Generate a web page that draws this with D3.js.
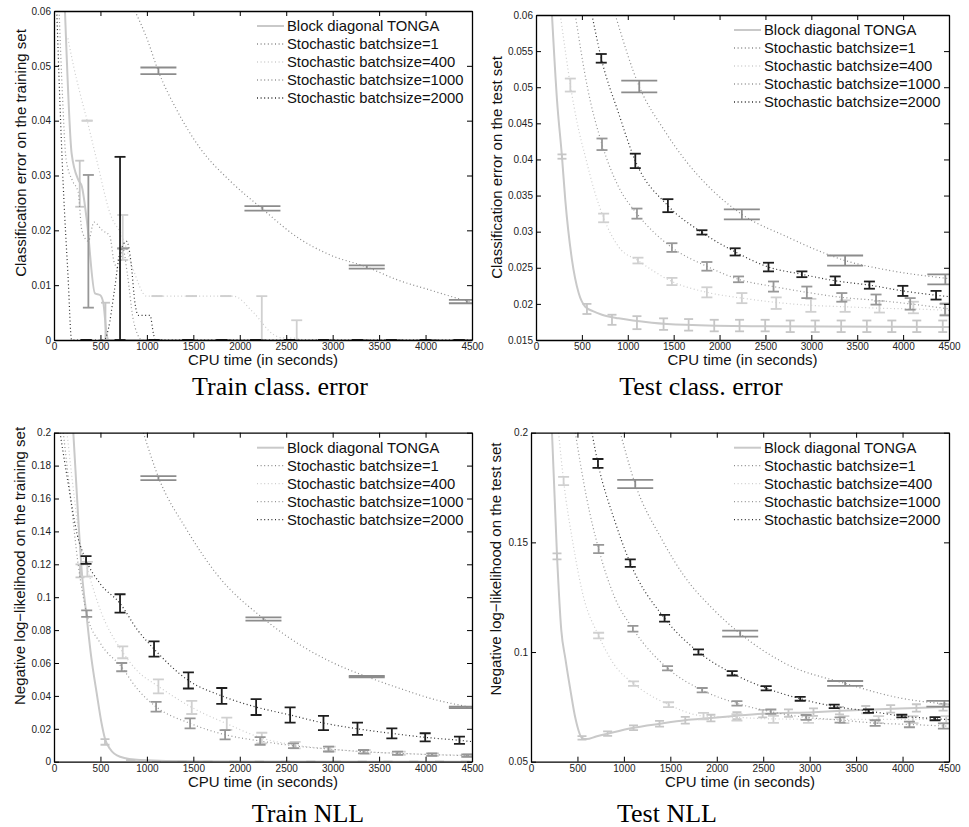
<!DOCTYPE html>
<html>
<head>
<meta charset="utf-8">
<script src="https://cdn.jsdelivr.net/npm/d3@7"></script>
<style>
  body { margin: 0; background: #fff; }
  svg { display: block; font-family: "Liberation Sans", Arial, sans-serif; }
</style>
</head>
<body>
<svg id="fig" width="969" height="827"></svg>
<script>
const seriesNames = ["Block diagonal TONGA", "Stochastic batchsize=1", "Stochastic batchsize=400",
                     "Stochastic batchsize=1000", "Stochastic batchsize=2000"];
const xTicks = [0, 500, 1000, 1500, 2000, 2500, 3000, 3500, 4000, 4500];
const xLabel = "CPU time (in seconds)";

// ---- Train class. error  (curves: [time, value], bars: [time, mean, halfwidth])
const trErrYTicks = [0, 0.01, 0.02, 0.03, 0.04, 0.05, 0.06];
const trErrTonga = [[118,0.060],[136,0.052],[190,0.034],[262,0.0292],[300,0.028],[352,0.022],[441,0.0085],[495,0.0082],[531,0.0068],[567,0.001],[585,0],[4500,0]];
const trErrTongaBars = [[277,0.0285,0.0042],[554,0.0034,0.0034],[831,0,0],[1108,0,0],[1385,0,0],[1662,0,0],[1939,0,0],[2216,0,0],[2493,0,0],[2770,0,0],[3047,0,0],[3324,0,0],[3601,0,0],[3878,0,0],[4155,0,0],[4432,0,0]];
const trErrB1 = [[872,0.060],[1000,0.055],[1124,0.049],[1320,0.042],[1572,0.035],[1896,0.029],[2237,0.024],[2614,0.0188],[2973,0.0155],[3368,0.0133],[3691,0.011],[4050,0.0091],[4408,0.0073],[4500,0.0069]];
const trErrB1Bars = [[1124,0.0491,0.0006],[2244,0.0240,0.0004],[3367,0.0133,0.0003],[4445,0.0070,0.0003]];
const trErrB400 = [[150,0.055],[210,0.050],[280,0.045],[357,0.040],[460,0.0328],[603,0.0231],[740,0.0187],[850,0.013],[998,0.008],[1931,0.008],[2147,0.005],[2362,0.001],[2450,0.0004],[2620,0.0003],[2700,0],[4500,0]];
const trErrB400Bars = [[357,0.040,0],[740,0.0187,0.0041],[1110,0.008,0],[1480,0.008,0],[1850,0.008,0],[2237,0.004,0.004],[2613,0.0018,0.0018],[2960,0,0],[3330,0,0],[3700,0,0],[4070,0,0],[4440,0,0]];
const trErrB1000 = [[55,0.060],[90,0.045],[130,0.033],[200,0.029],[260,0.027],[300,0.020],[370,0.018],[430,0.0215],[520,0.020],[600,0.019],[650,0.014],[700,0.013],[740,0.0167],[790,0.012],[850,0.004],[900,0.001],[950,0],[4500,0]];
const trErrB1000Bars = [[370,0.018,0.0121],[740,0.0167,0],[1110,0,0],[1480,0,0],[1850,0,0],[2220,0,0],[2590,0,0],[2960,0,0],[3330,0,0],[3700,0,0],[4070,0,0],[4440,0,0]];
const trErrB2000 = [[30,0.060],[60,0.045],[100,0.028],[150,0.012],[190,0],[540,0],[585,0.002],[650,0.009],[711,0.0160],[783,0.018],[830,0.014],[872,0.0067],[908,0.0045],[1034,0.0045],[1070,0.0012],[1090,0],[4500,0]];
const trErrB2000Bars = [[346,0,0],[711,0.0167,0.0167],[1076,0,0],[1441,0,0],[1806,0,0],[2171,0,0],[2536,0,0],[2901,0,0],[3266,0,0],[3631,0,0],[3996,0,0],[4361,0,0]];

// ---- Test class. error
const teErrYTicks = [0.015, 0.02, 0.025, 0.03, 0.035, 0.04, 0.045, 0.05, 0.055, 0.06];
const teErrTonga = [[174,0.060],[229,0.0482],[283,0.0404],[319,0.0344],[392,0.0261],[465,0.0215],[537,0.0196],[620,0.019],[719,0.0185],[900,0.018],[1263,0.0174],[1626,0.0171],[2352,0.0169],[4500,0.0168]];
const teErrTongaBars = [[283,0.0404,0.0003],[555,0.0193,0.0007],[828,0.0178,0.0007],[1100,0.0174,0.0009],[1390,0.0172,0.0008],[1663,0.0171,0.0008],[1942,0.0170,0.0008],[2218,0.0170,0.0008],[2497,0.0170,0.0008],[2770,0.0169,0.0008],[3042,0.0169,0.0008],[3325,0.0169,0.0008],[3605,0.0169,0.0008],[3877,0.0169,0.0008],[4149,0.0169,0.0008],[4432,0.0169,0.0008]];
const teErrB1 = [[864,0.060],[1125,0.0501],[1400,0.0440],[1626,0.0399],[1900,0.036],[2243,0.0324],[2733,0.0293],[3050,0.0275],[3368,0.026],[3823,0.0247],[4500,0.0235]];
const teErrB1Bars = [[1125,0.0501,0.0008],[2243,0.0324,0.0007],[3368,0.0260,0.0007],[4460,0.0234,0.0007]];
const teErrB400 = [[265,0.060],[320,0.055],[374,0.0503],[450,0.045],[537,0.0404],[640,0.0355],[737,0.0319],[900,0.0279],[1111,0.0260],[1481,0.0231],[1862,0.0216],[2243,0.0208],[2617,0.0202],[2995,0.0198],[3368,0.0196],[3742,0.0194],[4112,0.0193],[4500,0.0191]];
const teErrB400Bars = [[374,0.0503,0.0009],[737,0.0319,0.0006],[1111,0.0260,0.0004],[1481,0.0231,0.0005],[1862,0.0216,0.0007],[2243,0.0208,0.0007],[2617,0.0201,0.0008],[2995,0.0198,0.0009],[3368,0.0197,0.0008],[3742,0.0196,0.0008],[4112,0.0195,0.0008],[4460,0.0193,0.0008]];
const teErrB1000 = [[428,0.060],[560,0.050],[719,0.0421],[900,0.0362],[1100,0.0325],[1481,0.0278],[1862,0.0252],[2207,0.0234],[2588,0.0224],[2951,0.0216],[3332,0.0209],[3705,0.0205],[4077,0.0200],[4500,0.0193]];
const teErrB1000Bars = [[719,0.0421,0.0008],[1100,0.0325,0.0007],[1481,0.0278,0.0006],[1862,0.0252,0.0006],[2207,0.0234,0.0004],[2588,0.0224,0.0007],[2951,0.0216,0.0008],[3332,0.0209,0.0006],[3705,0.0206,0.0007],[4077,0.0200,0.0008],[4457,0.0192,0.0008]];
const teErrB2000 = [[610,0.060],[711,0.054],[900,0.0464],[1082,0.0398],[1437,0.0336],[1808,0.0299],[2170,0.0272],[2533,0.0251],[2897,0.0241],[3260,0.0232],[3633,0.0226],[3997,0.0218],[4359,0.0212],[4500,0.0210]];
const teErrB2000Bars = [[711,0.0540,0.0006],[1082,0.0398,0.0010],[1437,0.0336,0.0009],[1808,0.0299,0.0003],[2170,0.0272,0.0005],[2533,0.0251,0.0006],[2897,0.0241,0.0004],[3260,0.0232,0.0006],[3633,0.0226,0.0005],[3997,0.0218,0.0007],[4359,0.0212,0.0006]];

// ---- Train NLL
const trNllYTicks = [0, 0.02, 0.04, 0.06, 0.08, 0.1, 0.12, 0.14, 0.16, 0.18, 0.2];
const trNllTonga = [[208,0.2],[262,0.147],[300,0.115],[352,0.088],[400,0.064],[460,0.0415],[510,0.024],[549,0.014],[600,0.008],[711,0.003],[926,0.001],[1500,0.0002],[4500,0]];
const trNllTongaBars = [[280,0.116,0.004],[549,0.012,0.0017],[826,0.001,0],[1103,0,0],[1380,0,0],[1657,0,0],[1934,0,0],[2211,0,0],[2488,0,0],[2765,0,0],[3042,0,0],[3319,0,0],[3596,0,0],[3873,0,0],[4150,0,0],[4427,0,0]];
const trNllB1 = [[962,0.2],[1124,0.173],[1429,0.141],[1752,0.114],[2255,0.087],[2650,0.071],[3008,0.060],[3367,0.0517],[3726,0.0445],[4085,0.038],[4500,0.033]];
const trNllB1Bars = [[1124,0.1724,0.0012],[2255,0.0867,0.001],[3367,0.0517,0.0004],[4445,0.033,0.0004]];
const trNllB400 = [[140,0.2],[220,0.16],[290,0.13],[359,0.117],[500,0.092],[740,0.0665],[900,0.055],[1124,0.0458],[1483,0.033],[1860,0.0231],[2237,0.0144],[2596,0.0101],[2973,0.0077],[3350,0.0059],[3727,0.0051],[4085,0.0043],[4462,0.0038],[4500,0.0037]];
const trNllB400Bars = [[359,0.117,0.0045],[740,0.0665,0.0036],[1124,0.0458,0.0043],[1483,0.033,0.004],[1860,0.0231,0.0037],[2237,0.0144,0.0032],[2596,0.0101,0.002],[2973,0.0077,0.0015],[3350,0.0059,0.0012],[3727,0.0051,0.001],[4085,0.0043,0.0008],[4462,0.0038,0.0007]];
const trNllB1000 = [[100,0.2],[180,0.16],[260,0.12],[352,0.090],[500,0.072],[729,0.0575],[900,0.044],[1099,0.0334],[1465,0.0233],[1842,0.0164],[2219,0.0126],[2578,0.0097],[2955,0.0077],[3332,0.0061],[3698,0.0051],[4067,0.0043],[4444,0.0037],[4500,0.0036]];
const trNllB1000Bars = [[352,0.090,0.002],[729,0.0575,0.0025],[1099,0.0334,0.003],[1465,0.0233,0.003],[1842,0.0164,0.0028],[2219,0.0126,0.0023],[2578,0.0097,0.0015],[2955,0.0077,0.0015],[3332,0.0061,0.001],[3698,0.0051,0.001],[4067,0.0043,0.0008],[4444,0.0037,0.0007]];
const trNllB2000 = [[65,0.2],[150,0.17],[250,0.138],[345,0.1226],[500,0.108],[711,0.0962],[900,0.080],[1077,0.0685],[1447,0.0494],[1806,0.040],[2176,0.0332],[2542,0.0284],[2901,0.0235],[3267,0.020],[3637,0.0172],[3996,0.0148],[4365,0.013],[4500,0.0122]];
const trNllB2000Bars = [[345,0.1226,0.0024],[711,0.0962,0.0056],[1077,0.0685,0.0046],[1447,0.0494,0.0049],[1806,0.040,0.0048],[2176,0.0332,0.0048],[2542,0.0284,0.0046],[2901,0.0235,0.0043],[3267,0.020,0.0037],[3637,0.0172,0.003],[3996,0.0148,0.0025],[4365,0.013,0.0022]];

// ---- Test NLL
const teNllYTicks = [0.05, 0.1, 0.15, 0.2];
const teNllTonga = [[226,0.2],[280,0.144],[326,0.110],[370,0.097],[423,0.083],[477,0.070],[549,0.0609],[600,0.0603],[700,0.0615],[825,0.0628],[1104,0.0655],[1384,0.0673],[1661,0.0689],[1937,0.0699],[2217,0.071],[2494,0.0719],[3041,0.0726],[3604,0.0737],[4149,0.0745],[4500,0.0750]];
const teNllTongaBars = [[280,0.1436,0.0014],[549,0.0609,0.0008],[825,0.0628,0.001],[1104,0.0655,0.0011],[1384,0.0673,0.0013],[1661,0.0689,0.0015],[1937,0.0699,0.0015],[2217,0.071,0.0016],[2494,0.0719,0.0017],[2772,0.0722,0.0017],[3041,0.0726,0.0017],[3321,0.0733,0.0017],[3604,0.0737,0.0017],[3872,0.0741,0.0017],[4149,0.0745,0.0017],[4436,0.0748,0.0015]];
const teNllB1 = [[961,0.2],[1122,0.1766],[1400,0.152],[1660,0.134],[1950,0.12],[2252,0.1084],[2736,0.0948],[3382,0.0857],[3991,0.0789],[4500,0.0762]];
const teNllB1Bars = [[1122,0.1766,0.0019],[2252,0.1084,0.0014],[3382,0.0857,0.0011],[4450,0.0764,0.0013]];
const teNllB400 = [[297,0.2],[351,0.178],[450,0.150],[560,0.126],[728,0.1075],[900,0.094],[1104,0.0856],[1481,0.076],[1857,0.0708],[2217,0.0702],[2610,0.0695],[2987,0.0694],[3368,0.0693],[3742,0.0693],[4112,0.0693],[4500,0.0693]];
const teNllB400Bars = [[351,0.178,0.0019],[728,0.1075,0.0013],[1104,0.0856,0.001],[1481,0.076,0.0011],[1857,0.0708,0.0015],[2217,0.0702,0.0015],[2610,0.0693,0.0016],[2987,0.0693,0.0016],[3368,0.0692,0.0016],[3742,0.0692,0.0016],[4112,0.0692,0.0016],[4470,0.0692,0.0016]];
const teNllB1000 = [[477,0.2],[600,0.17],[728,0.147],[900,0.125],[1097,0.1106],[1470,0.0926],[1843,0.0826],[2217,0.0766],[2582,0.0728],[2962,0.0702],[3327,0.069],[3705,0.0676],[4074,0.067],[4440,0.0663],[4500,0.0662]];
const teNllB1000Bars = [[728,0.147,0.0019],[1097,0.1106,0.0013],[1470,0.0926,0.001],[1843,0.0826,0.001],[2217,0.0766,0.001],[2582,0.0728,0.001],[2962,0.0702,0.0011],[3327,0.069,0.0012],[3705,0.0676,0.0013],[4074,0.067,0.0013],[4440,0.0663,0.0012]];
const teNllB2000 = [[656,0.2],[721,0.186],[900,0.160],[1069,0.1405],[1438,0.1154],[1803,0.100],[2166,0.0903],[2532,0.0835],[2898,0.0787],[3264,0.0752],[3633,0.0731],[3992,0.0708],[4350,0.0696],[4500,0.0692]];
const teNllB2000Bars = [[721,0.186,0.002],[1069,0.1405,0.0017],[1438,0.1154,0.0015],[1803,0.1000,0.0012],[2166,0.0903,0.001],[2532,0.0835,0.001],[2898,0.0787,0.0009],[3264,0.0752,0.0008],[3633,0.0731,0.0008],[3992,0.0708,0.0006],[4350,0.0696,0.0007]];

// look of each series (same order as seriesNames)
const styles = [
  {line: "#c9c9c9", dash: null,    lw: 2,   bar: "#c6c6c6", cap: 4.5},
  {line: "#8a8a8a", dash: "1,2.6", lw: 1.2, bar: "#8c8c8c", cap: 18},
  {line: "#cdcdcd", dash: "1,2.6", lw: 1.2, bar: "#d0d0d0", cap: 5.5},
  {line: "#959595", dash: "1,2.6", lw: 1.2, bar: "#979797", cap: 5.5},
  {line: "#2e2e2e", dash: "1,2.6", lw: 1.2, bar: "#1e1e1e", cap: 5.5}
];

const panels = [
  {id: "a", left: 54, right: 472, top: 11, bottom: 340, yDomain: [0, 0.06], yTicks: trErrYTicks,
   yLabel: "Classification error on the training set", yLabelX: 25.5, yLabelY: 153,
   caption: "Train class. error", capX: 280, capY: 395,
   curves: [trErrTonga, trErrB1, trErrB400, trErrB1000, trErrB2000],
   bars: [trErrTongaBars, trErrB1Bars, trErrB400Bars, trErrB1000Bars, trErrB2000Bars]},
  {id: "b", left: 536, right: 949, top: 15, bottom: 340, yDomain: [0.015, 0.06], yTicks: teErrYTicks,
   yLabel: "Classification error on the test set", yLabelX: 501.5, yLabelY: 167.5,
   caption: "Test class. error", capX: 701, capY: 395,
   curves: [teErrTonga, teErrB1, teErrB400, teErrB1000, teErrB2000],
   bars: [teErrTongaBars, teErrB1Bars, teErrB400Bars, teErrB1000Bars, teErrB2000Bars]},
  {id: "c", left: 54, right: 472, top: 432.7, bottom: 761.7, yDomain: [0, 0.2], yTicks: trNllYTicks,
   yLabel: "Negative log\u2212likelihood on the training set", yLabelX: 25, yLabelY: 566,
   caption: "Train NLL", capX: 308, capY: 822,
   curves: [trNllTonga, trNllB1, trNllB400, trNllB1000, trNllB2000],
   bars: [trNllTongaBars, trNllB1Bars, trNllB400Bars, trNllB1000Bars, trNllB2000Bars]},
  {id: "d", left: 531, right: 949, top: 432.7, bottom: 761.7, yDomain: [0.05, 0.2], yTicks: teNllYTicks,
   yLabel: "Negative log\u2212likelihood on the test set", yLabelX: 501, yLabelY: 569,
   caption: "Test NLL", capX: 667, capY: 822,
   curves: [teNllTonga, teNllB1, teNllB400, teNllB1000, teNllB2000],
   bars: [teNllTongaBars, teNllB1Bars, teNllB400Bars, teNllB1000Bars, teNllB2000Bars]}
];

const svg = d3.select("#fig");

const drawPanel = (p) => {
    const x = d3.scaleLinear().domain([0, 4500]).range([p.left, p.right]);
    const y = d3.scaleLinear().domain(p.yDomain).range([p.bottom, p.top]);
    const g = svg.append("g");

    g.append("clipPath").attr("id", "clip-" + p.id)
        .append("rect")
        .attr("x", p.left).attr("y", p.top)
        .attr("width", p.right - p.left).attr("height", p.bottom - p.top);

    const plot = g.append("g").attr("clip-path", `url(#clip-${p.id})`);
    const line = d3.line()
        .x(d => x(d[0]))
        .y(d => y(d[1]))
        .curve(d3.curveMonotoneX);

    p.curves.forEach((c, i) => {
        const st = styles[i];
        plot.append("path")
            .datum(c)
            .attr("d", line)
            .attr("fill", "none")
            .attr("stroke", st.line)
            .attr("stroke-width", st.lw)
            .attr("stroke-dasharray", st.dash);

        const bg = plot.append("g")
            .attr("stroke", st.bar)
            .attr("stroke-width", 1.8)
            .attr("fill", "none");
        const bar = bg.selectAll("g").data(p.bars[i]).join("g");
        bar.append("line")
            .attr("x1", d => x(d[0])).attr("x2", d => x(d[0]))
            .attr("y1", d => y(d[1] - d[2])).attr("y2", d => y(d[1] + d[2]));
        bar.append("line")
            .attr("x1", d => x(d[0]) - st.cap).attr("x2", d => x(d[0]) + st.cap)
            .attr("y1", d => y(d[1] - d[2])).attr("y2", d => y(d[1] - d[2]));
        bar.append("line")
            .attr("x1", d => x(d[0]) - st.cap).attr("x2", d => x(d[0]) + st.cap)
            .attr("y1", d => y(d[1] + d[2])).attr("y2", d => y(d[1] + d[2]));
    });

    // box with inward ticks on all four sides
    const fmt = d => String(d);
    const xAxis = g.append("g")
        .attr("transform", `translate(0, ${p.bottom})`)
        .call(d3.axisBottom(x).tickValues(xTicks).tickFormat(fmt).tickSizeInner(-5).tickSizeOuter(0).tickPadding(3));
    const yAxis = g.append("g")
        .attr("transform", `translate(${p.left}, 0)`)
        .call(d3.axisLeft(y).tickValues(p.yTicks).tickFormat(fmt).tickSizeInner(-5).tickSizeOuter(0).tickPadding(3));
    const topAxis = g.append("g")
        .attr("transform", `translate(0, ${p.top})`)
        .call(d3.axisTop(x).tickValues(xTicks).tickFormat("").tickSizeInner(-5).tickSizeOuter(0));
    const rightAxis = g.append("g")
        .attr("transform", `translate(${p.right}, 0)`)
        .call(d3.axisRight(y).tickValues(p.yTicks).tickFormat("").tickSizeInner(-5).tickSizeOuter(0));
    [xAxis, yAxis, topAxis, rightAxis].forEach(a => {
        a.select(".domain").attr("stroke", "#000").attr("stroke-width", 1.3);
        a.selectAll(".tick line").attr("stroke", "#000");
        a.selectAll(".tick text").attr("font-size", 10).attr("fill", "#222")
            .attr("font-family", "'Liberation Sans', Arial, sans-serif");
    });

    // legend
    const lx = p.right - 185;
    seriesNames.forEach((name, i) => {
        const st = styles[i];
        const cy = p.top + 15 + i * 18;
        g.append("line")
            .attr("x1", lx - 30).attr("x2", lx - 3)
            .attr("y1", cy).attr("y2", cy)
            .attr("stroke", st.line)
            .attr("stroke-width", i === 0 ? 2 : 1.3)
            .attr("stroke-dasharray", st.dash);
        g.append("text")
            .attr("x", lx).attr("y", cy + 5.3)
            .attr("font-size", 14.8)
            .attr("fill", "#111")
            .text(name);
    });

    g.append("text")
        .attr("x", (p.left + p.right) / 2)
        .attr("y", p.bottom + 25)
        .attr("text-anchor", "middle")
        .attr("font-size", 15)
        .attr("fill", "#111")
        .text(xLabel);

    g.append("text")
        .attr("transform", `translate(${p.yLabelX}, ${p.yLabelY}) rotate(-90)`)
        .attr("text-anchor", "middle")
        .attr("font-size", 15)
        .attr("fill", "#111")
        .text(p.yLabel);

    g.append("text")
        .attr("x", p.capX).attr("y", p.capY)
        .attr("text-anchor", "middle")
        .attr("font-family", "'Liberation Serif', 'Times New Roman', serif")
        .attr("font-size", 26)
        .attr("fill", "#000")
        .text(p.caption);
};

panels.forEach(drawPanel);
</script>
</body>
</html>
